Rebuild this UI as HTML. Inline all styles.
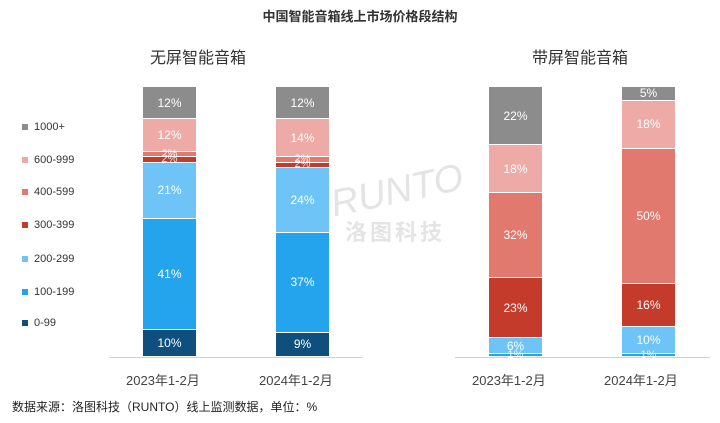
<!DOCTYPE html><html><head><meta charset="utf-8"><style>
body{margin:0;width:720px;height:423px;background:#fff;position:relative;overflow:hidden;font-family:"Liberation Sans","Noto Sans CJK SC",sans-serif;color:#333}
.a{position:absolute}
.seg{position:absolute;color:#fff;font-size:12px;display:flex;align-items:center;justify-content:center;box-sizing:border-box;border-bottom:1.5px solid #fff;overflow:visible;line-height:1}
.lg{position:absolute;left:22px;font-size:11px;color:#333}
.lg i{display:inline-block;width:6px;height:6px;margin-right:6px;vertical-align:middle}
</style></head><body>
<div class="a" style="left:0;width:720px;top:6px;text-align:center;font-weight:bold;font-size:13px">中国智能音箱线上市场价格段结构</div>
<div class="a" style="left:150px;top:44px;font-size:16px">无屏智能音箱</div>
<div class="a" style="left:532px;top:44px;font-size:16px">带屏智能音箱</div>
<div class="a" style="left:110px;top:357px;width:252px;height:1px;background:#d0d0d0"></div>
<div class="a" style="left:455px;top:357px;width:255px;height:1px;background:#d0d0d0"></div>
<div class="a" style="left:126px;top:370px;font-size:13px;color:#444">2023年1-2月</div>
<div class="a" style="left:259px;top:370px;font-size:13px;color:#444">2024年1-2月</div>
<div class="a" style="left:472px;top:370px;font-size:13px;color:#444">2023年1-2月</div>
<div class="a" style="left:604px;top:370px;font-size:13px;color:#444">2024年1-2月</div>
<div class="a" style="left:12px;top:398px;font-size:12px;color:#222">数据来源：洛图科技（RUNTO）线上监测数据，单位：%</div>
<div class="a" style="left:330px;top:170px;font-size:38px;color:#e4e4e4;font-style:italic;transform:rotate(-12deg)">RUNTO</div>
<div class="a" style="left:345px;top:215px;font-size:22px;color:#e4e4e4;font-weight:bold;letter-spacing:3px">洛图科技</div>
<div class="lg" style="top:121px"><i style="background:#8c8c8c"></i>1000+</div>
<div class="lg" style="top:154px"><i style="background:#eeaaa6"></i>600-999</div>
<div class="lg" style="top:186px"><i style="background:#e1796f"></i>400-599</div>
<div class="lg" style="top:219px"><i style="background:#c43a2b"></i>300-399</div>
<div class="lg" style="top:253px"><i style="background:#6ec4f7"></i>200-299</div>
<div class="lg" style="top:286px"><i style="background:#25a4ee"></i>100-199</div>
<div class="lg" style="top:317px"><i style="background:#0e4f7d"></i>0-99</div>
<div id="c"></div>
<script>
var C=["#8c8c8c","#eeaaa6","#e1796f","#c43a2b","#6ec4f7","#25a4ee","#0e4f7d"];
var bars=[[143,[12,12,2,2,21,41,10]],[276,[12,14,2,2,24,37,9]],[489,[22,18,32,23,6,1,0]],[622,[5,18,50,16,10,1,0]]];
var h="";bars.forEach(function(b){var tot=b[1].reduce(function(a,c){return a+c},0);var y=87;b[1].forEach(function(v,i){if(!v)return;var hh=v/tot*270;h+='<div class="seg" style="left:'+b[0]+'px;top:'+y+'px;width:53px;height:'+hh+'px;background:'+C[i]+'">'+(v>=3?v+'%':'<span style="font-size:11px;opacity:.85">'+v+'%</span>')+'</div>';y+=hh;});});
document.getElementById('c').innerHTML=h;
</script>
</body></html>
